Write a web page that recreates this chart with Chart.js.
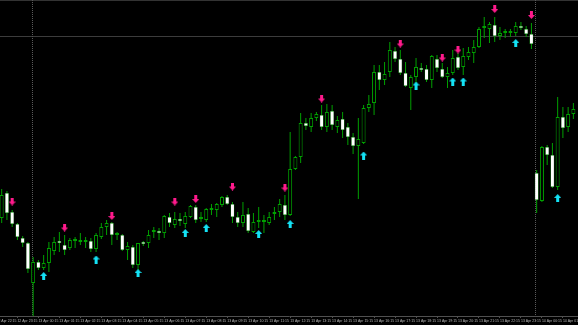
<!DOCTYPE html>
<html>
<head>
<meta charset="utf-8">
<script src="https://cdn.jsdelivr.net/npm/chart.js@4.4.0/dist/chart.umd.min.js"></script>
<style>
    html, body { margin: 0; padding: 0; background: #000; }
    #wrap { width: 578px; height: 325px; background: #000; }
</style>
</head>
<body>
<div id="wrap"><canvas id="chart"></canvas></div>
<script>
// M15 bars, price in points
const opens = [
    102, 127, 108, 96, 82, 77, 37, 58, 52, 57,
    69, 78, 75, 72, 79, 78, 78, 79, 71, 83,
    93, 97, 85, 85, 70, 73, 55, 77, 77, 88,
    89, 87, 103, 95, 101, 96, 103, 113, 101, 100,
    110, 110, 115, 123, 116, 103, 97, 106, 88, 98,
    98, 97, 106, 108, 115, 105, 151, 163, 197, 193,
    202, 205, 193, 209, 193, 201, 193, 183, 174, 177,
    212, 217, 248, 240, 248, 269, 261, 247, 232, 243,
    252, 251, 240, 261, 251, 243, 247, 263, 253, 263,
    267, 273, 292, 291, 295, 284, 287, 287, 287, 293,
    291, 286, 147, 119, 173, 165, 133, 203, 193, 206
];
const highs = [
    131, 129, 110, 97, 84, 78, 63, 60, 65, 78,
    83, 88, 85, 82, 83, 87, 83, 82, 87, 97,
    100, 98, 88, 86, 78, 75, 77, 79, 90, 93,
    92, 105, 107, 108, 107, 108, 115, 115, 108, 112,
    116, 117, 124, 125, 118, 108, 118, 112, 107, 113,
    105, 108, 113, 121, 125, 188, 164, 207, 202, 207,
    208, 215, 216, 215, 204, 208, 197, 187, 202, 215,
    225, 255, 255, 258, 278, 273, 270, 258, 245, 262,
    257, 255, 265, 265, 257, 253, 270, 267, 272, 273,
    280, 293, 303, 298, 303, 293, 291, 291, 298, 298,
    294, 297, 150, 174, 175, 177, 223, 213, 213, 217
];
const lows = [
    97, 100, 93, 80, 73, 47, 4, 50, 50, 48,
    65, 68, 65, 70, 72, 75, 72, 68, 68, 81,
    85, 75, 80, 69, 60, 52, 50, 74, 72, 82,
    80, 82, 93, 92, 94, 92, 102, 97, 98, 98,
    105, 103, 113, 115, 97, 93, 93, 87, 87, 92,
    87, 95, 100, 103, 100, 104, 150, 157, 190, 188,
    199, 190, 188, 190, 187, 182, 175, 166, 121, 176,
    208, 205, 230, 235, 243, 258, 245, 233, 210, 235,
    248, 238, 232, 248, 242, 232, 245, 250, 245, 260,
    257, 272, 282, 277, 278, 280, 282, 283, 284, 290,
    283, 271, 107, 118, 155, 132, 130, 182, 188, 201
];
const closes = [
    125, 107, 96, 83, 77, 51, 58, 52, 57, 72,
    78, 77, 70, 80, 79, 78, 78, 71, 85, 93,
    97, 85, 85, 70, 74, 55, 77, 76, 85, 88,
    87, 104, 97, 101, 99, 104, 114, 100, 101, 111,
    110, 116, 123, 116, 103, 97, 105, 89, 98, 98,
    98, 103, 108, 116, 105, 151, 163, 197, 194, 202,
    206, 193, 208, 195, 200, 190, 183, 174, 181, 212,
    216, 248, 240, 246, 270, 261, 247, 234, 243, 253,
    250, 240, 264, 252, 243, 247, 262, 252, 264, 268,
    273, 291, 292, 296, 284, 287, 287, 287, 294, 292,
    286, 276, 120, 173, 165, 133, 203, 192, 206, 211
];

// signal arrows (bar index, price)
const sellIdx = [2, 12, 21, 33, 37, 44, 54, 61, 76, 84, 87, 94, 101];
const sellPrice = [118.5, 92.5, 104, 118.5, 121, 133.5, 132.5, 221.5, 276.5, 262.5, 270.5, 311, 305];
const buyIdx = [8, 18, 26, 35, 39, 49, 55, 69, 79, 86, 88, 98, 106];
const buyPrice = [44, 60.5, 47, 87, 92, 86, 96, 164.5, 234.5, 238.5, 238.5, 277, 122];

// time axis
const tickIdx = [-1, 3, 7, 11, 15, 19, 23, 27, 31, 35, 39, 43, 47, 51, 55, 59, 63, 67, 71, 75, 79, 83, 87, 91, 95, 99, 103, 107];
const tickLabels = [
    "12 Apr 22:15", "12 Apr 23:15", "13 Apr 00:15", "13 Apr 01:15", "13 Apr 02:15", "13 Apr 03:15",
    "13 Apr 04:15", "13 Apr 05:15", "13 Apr 06:15", "13 Apr 07:15", "13 Apr 08:15", "13 Apr 09:15",
    "13 Apr 10:15", "13 Apr 11:15", "13 Apr 12:15", "13 Apr 13:15", "13 Apr 14:15", "13 Apr 15:15",
    "13 Apr 16:15", "13 Apr 17:15", "13 Apr 18:15", "13 Apr 19:15", "13 Apr 20:15", "13 Apr 21:15",
    "13 Apr 22:15", "13 Apr 23:15", "14 Apr 00:15", "14 Apr 01:15"
];
const dayStarts = [6, 102];
const priceLine = 283;
const priceTop = 320;

const CANDLE = '#00a000';

function makeArrow(color, up) {
    const c = document.createElement('canvas');
    c.width = 7;
    c.height = 8;
    const g = c.getContext('2d');
    g.fillStyle = color;
    g.beginPath();
    if (up) {
        g.moveTo(3.5, 0); g.lineTo(7, 4); g.lineTo(5, 4); g.lineTo(5, 8);
        g.lineTo(2, 8); g.lineTo(2, 4); g.lineTo(0, 4);
    } else {
        g.moveTo(2, 0); g.lineTo(5, 0); g.lineTo(5, 4); g.lineTo(7, 4);
        g.lineTo(3.5, 8); g.lineTo(0, 4); g.lineTo(2, 4);
    }
    g.closePath();
    g.fill();
    return c;
}

const separators = {
    id: 'separators',
    beforeDatasetsDraw(chart) {
        const ctx = chart.ctx;
        const xs = chart.scales.x;
        const area = chart.chartArea;
        ctx.save();
        ctx.strokeStyle = '#5a5a5a';
        ctx.lineWidth = 1;
        ctx.setLineDash([1, 1]);
        dayStarts.forEach(d => {
            const x = Math.floor(xs.getPixelForValue(d) - 0.7) + 0.5;
            ctx.beginPath();
            ctx.moveTo(x, area.top);
            ctx.lineTo(x, area.bottom);
            ctx.stroke();
        });
        ctx.restore();
    }
};

const bearish = opens.map((o, i) => closes[i] < o);

const ctx = document.getElementById('chart').getContext('2d');
const chart = new Chart(ctx, {
    type: 'bar',
    data: {
        datasets: [
            {
                type: 'scatter',
                data: sellIdx.map((x, i) => ({ x: x, y: sellPrice[i] })),
                pointStyle: makeArrow('#ff1a8c', false),
                pointRadius: 3,
                pointHoverRadius: 3,
            },
            {
                type: 'scatter',
                data: buyIdx.map((x, i) => ({ x: x, y: buyPrice[i] })),
                pointStyle: makeArrow('#14e2f5', true),
                pointRadius: 3,
                pointHoverRadius: 3,
            },
            {
                data: opens.map((o, i) => ({ x: i, y: [o, closes[i]] })),
                backgroundColor: bearish.map(b => b ? '#ffffff' : '#000000'),
                borderColor: CANDLE,
                borderWidth: bearish.map(b => b ? 0.5 : 1),
                borderSkipped: false,
                barThickness: 4,
                minBarLength: 2,
                inflateAmount: 0,
                grouped: false,
            },
            {
                data: lows.map((l, i) => ({ x: i, y: [l, highs[i]] })),
                backgroundColor: CANDLE,
                borderWidth: 0,
                barThickness: 1,
                inflateAmount: 0,
                grouped: false,
            },
        ],
    },
    options: {
        responsive: true,
        maintainAspectRatio: false,
        animation: false,
        layout: { padding: 0, autoPadding: false },
        plugins: {
            legend: { display: false },
            tooltip: { enabled: false },
        },
        scales: {
            x: {
                type: 'linear',
                min: -0.32,
                max: 109.88,
                offset: false,
                bounds: 'data',
                grid: {
                    offset: false,
                    drawOnChartArea: false,
                    drawTicks: true,
                    tickLength: 2,
                    color: '#505050',
                },
                border: { display: true, color: '#505050' },
                afterBuildTicks: (scale) => {
                    scale.ticks = tickIdx.map(v => ({ value: v }));
                },
                afterFit: (scale) => {
                    scale.height = 9;
                    scale.paddingLeft = 0;
                    scale.paddingRight = 0;
                },
                ticks: {
                    autoSkip: false,
                    maxRotation: 0,
                    minRotation: 0,
                    align: 'start',
                    padding: 1,
                    color: '#b8b8b8',
                    font: { size: 3.5, family: "'Liberation Sans Narrow', 'Liberation Sans', sans-serif" },
                    callback: (v, i) => tickLabels[i],
                },
            },
            y: {
                type: 'linear',
                min: 4,
                max: 320,
                bounds: 'data',
                grid: {
                    drawTicks: false,
                    color: (c) => c.tick && c.tick.value === priceTop ? '#333333' : '#3c3c3c',
                    lineWidth: 1,
                },
                border: { display: false },
                afterBuildTicks: (scale) => {
                    scale.ticks = [{ value: priceLine }, { value: priceTop }];
                },
                afterFit: (scale) => {
                    scale.width = 0;
                    scale.paddingTop = 0;
                    scale.paddingBottom = 0;
                },
                ticks: { display: false },
            },
        },
    },
    plugins: [separators],
});
</script>
</body>
</html>
